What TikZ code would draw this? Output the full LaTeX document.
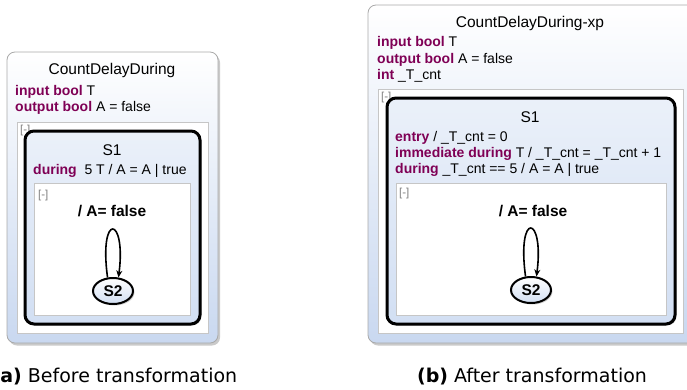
\documentclass[tikz,border=0pt]{standalone}
\usepackage{fontspec}
\setmainfont{Liberation Sans}
\newfontfamily\capfont{DejaVu Sans}
\usetikzlibrary{shadows,arrows.meta,shapes.geometric}
\definecolor{kw}{HTML}{7F0055}
\definecolor{regblue}{HTML}{C9D8F0}
\definecolor{stblue}{HTML}{D2DFF3}
\definecolor{bordgray}{HTML}{A9A9A9}
\definecolor{litegray}{HTML}{C6C6C6}
\newcommand\kw[1]{\textcolor{kw}{\textbf{#1}}}
\begin{document}
\begin{tikzpicture}[x=1pt,y=-1pt,
  body/.style={font=\fontsize{14}{16}\selectfont, inner sep=0pt},
  ttl/.style={font=\fontsize{15.5}{18}\selectfont, inner sep=0pt},
  bld/.style={font=\fontsize{15.5}{18}\selectfont\bfseries, inner sep=0pt},
  collapse/.style={font=\fontsize{11.5}{13}\selectfont, text=gray, inner sep=0pt, anchor=west},
  outerbox/.style={draw=bordgray, line width=0.8pt, rounded corners=8pt,
    top color=white, bottom color=regblue,
    drop shadow={shadow xshift=2pt, shadow yshift=-2.5pt, opacity=0.35, fill=black!60}},
  regbox/.style={draw=litegray, line width=0.8pt, fill=white},
  stbox/.style={draw=black, line width=3pt, rounded corners=9pt,
    top color=stblue!45, bottom color=stblue,
    drop shadow={shadow xshift=1.5pt, shadow yshift=-1.5pt, opacity=0.25, fill=black!60}},
  simple/.style={draw=black, line width=2pt, ellipse, minimum width=40pt, minimum height=26pt,
    top color=white, bottom color=stblue, inner sep=0pt,
    font=\fontsize{15.5}{18}\selectfont\bfseries,
    drop shadow={shadow xshift=1.5pt, shadow yshift=-1.5pt, opacity=0.3, fill=black!60}},
  selfloop/.style={line width=1.6pt, -{Stealth[length=7pt,width=6pt]}},
  captext/.style={font=\capfont\fontsize{19}{22}\selectfont, inner sep=0pt}
]
\useasboundingbox (0,0) rectangle (687,389);

% ---------------- (a) ----------------
\path (7,52) coordinate (oa1) (218,343) coordinate (oa2);
\shade[outerbox] (oa1) rectangle (oa2);
\node[ttl] (titleA) at (112,70) {CountDelayDuring};
\node[body, anchor=west] (inA) at (15,92) {\kw{input bool} T};
\node[body, anchor=west] (outA) at (15,108) {\kw{output bool} A = false};
\path (17,122) coordinate (ra1) (208,333) coordinate (ra2);
\draw[regbox] (ra1) rectangle (ra2);
\node[collapse] (colA) at (20,131) {[-]};
\path (25,131) coordinate (sa1) (200,324) coordinate (sa2);
\shade[stbox] (sa1) rectangle (sa2);
\node[ttl] (s1A) at (112,150) {S1};
\node[body, anchor=west] (durA) at (33,171) {\kw{during}\ \ 5 T / A = A | true};
\path (34,183) coordinate (ia1) (190,315) coordinate (ia2);
\draw[regbox] (ia1) rectangle (ia2);
\node[collapse] (colA2) at (38,196) {[-]};
\node[bld] (actA) at (112,211) {/ A= false};
\node[simple] (s2A) at (113,291) {S2};
\draw[selfloop] (s2A.112) .. controls +(-9,-66) and +(8,-62) .. (s2A.68);
\node[captext, anchor=west] (capA) at (-8.5,377) {\textbf{(a)} Before transformation};

% ---------------- (b) ----------------
\path (368,5) coordinate (ob1) (705,343) coordinate (ob2);
\shade[outerbox] (ob1) rectangle (ob2);
\node[ttl] (titleB) at (530,23) {CountDelayDuring-xp};
\node[body, anchor=west] (inB) at (377,43) {\kw{input bool} T};
\node[body, anchor=west] (outB) at (377,60) {\kw{output bool} A = false};
\node[body, anchor=west] (intB) at (377,76) {\kw{int} \_T\_cnt};
\path (378,89) coordinate (rb1) (683,333) coordinate (rb2);
\draw[regbox] (rb1) rectangle (rb2);
\node[collapse] (colB) at (381,98) {[-]};
\path (387,98) coordinate (sb1) (675,324) coordinate (sb2);
\shade[stbox] (sb1) rectangle (sb2);
\node[ttl] (s1B) at (530,117) {S1};
\node[body, anchor=west] (entB) at (395,138) {\kw{entry} / \_T\_cnt = 0};
\node[body, anchor=west] (immB) at (395,154) {\kw{immediate during} T / \_T\_cnt = \_T\_cnt + 1};
\node[body, anchor=west] (durB) at (395,170) {\kw{during} \_T\_cnt == 5 / A = A | true};
\path (396,183) coordinate (ib1) (666,315) coordinate (ib2);
\draw[regbox] (ib1) rectangle (ib2);
\node[collapse] (colB2) at (399,194) {[-]};
\node[bld] (actB) at (533,211) {/ A= false};
\node[simple] (s2B) at (531,290) {S2};
\draw[selfloop] (s2B.112) .. controls +(-9,-66) and +(8,-62) .. (s2B.68);
\node[captext] (capB) at (532,377) {\textbf{(b)} After transformation};
\end{tikzpicture}
\end{document}
